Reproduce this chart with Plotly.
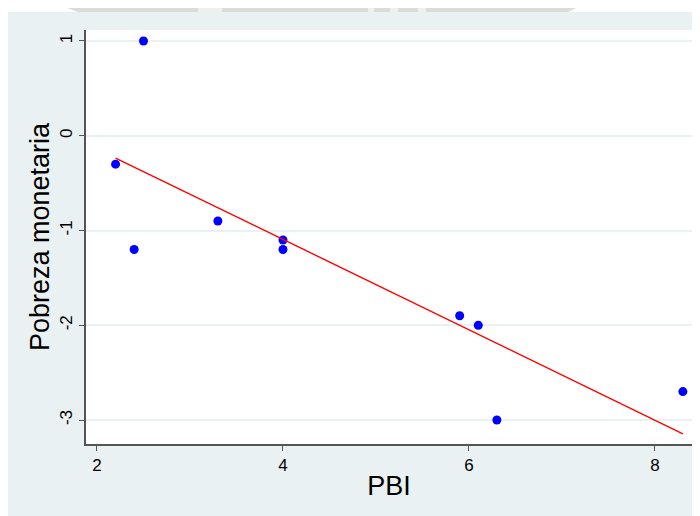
import plotly.graph_objects as go

# Data
pbi = [2.2, 2.4, 2.5, 3.3, 4.0, 4.0, 5.9, 6.1, 6.3, 8.3]
pobreza = [-0.3, -1.2, 1.0, -0.9, -1.1, -1.2, -1.9, -2.0, -3.0, -2.7]
fit_x = [2.2, 8.3]
fit_y = [-0.235, -3.145]
x_ticks = [2, 4, 6, 8]
x_labels = ["2", "4", "6", "8"]
y_ticks = [1, 0, -1, -2, -3]
y_labels = ["1", "0", "-1", "-2", "-3"]

# figure is placed at page offset (8, 8) by the default body margin
W, H = 692, 508
L, R, T, B = 78, 8, 22, 72
pw, ph = W - L - R, H - T - B

def px(xp):
    return (xp - L) / pw

def py(yp):
    return (H - B - yp) / ph

BG = "#eaf1f2"
FONT = "Liberation Sans, Arial, sans-serif"

fig = go.Figure()
fig.add_trace(go.Scatter(x=pbi, y=pobreza, mode="markers",
                         marker=dict(color="#0000ff", size=9, line=dict(width=0)),
                         showlegend=False, cliponaxis=False))
fig.add_trace(go.Scatter(x=fit_x, y=fit_y, mode="lines",
                         line=dict(color="#ff0000", width=1.4),
                         showlegend=False))

shapes = [
    dict(type="rect", xref="paper", yref="paper", x0=px(0), x1=px(W), y0=py(4), y1=py(0),
         fillcolor="white", line=dict(width=0), layer="above"),
    dict(type="path", xref="paper", yref="paper",
         path=f"M {px(59)},{py(0)} L {px(568)},{py(0)} L {px(560)},{py(4)} L {px(70)},{py(4)} Z",
         fillcolor="#d9ddd5", line=dict(width=0), layer="above"),
]
for a, b in [(190, 214), (360, 366), (382, 390), (410, 418)]:
    shapes.append(dict(type="rect", xref="paper", yref="paper", x0=px(a), x1=px(b),
                       y0=py(4), y1=py(0), fillcolor="#eef0ec", line=dict(width=0), layer="above"))

fig.update_layout(
    width=W, height=H,
    margin=dict(l=L, r=R, t=T, b=B),
    paper_bgcolor=BG, plot_bgcolor="white",
    font=dict(family=FONT, color="black"),
    shapes=shapes,
    xaxis=dict(range=[1.882, 8.398], tickvals=x_ticks, ticktext=x_labels,
               ticks="outside", ticklen=5,
               tickwidth=1, tickcolor="#555", showline=True, linecolor="#555", linewidth=1.5,
               showgrid=False, zeroline=False, tickfont=dict(size=17),
               title=dict(text="PBI", font=dict(size=27), standoff=2)),
    yaxis=dict(range=[-3.253, 1.116], tickvals=y_ticks, ticktext=y_labels,
               ticks="outside", ticklen=5,
               tickwidth=1, tickcolor="#555", showline=True, linecolor="#555", linewidth=1.5,
               showgrid=True, gridcolor=BG, gridwidth=1.5, zeroline=False,
               tickangle=-90, tickfont=dict(size=17),
               title=dict(text="Pobreza monetaria", font=dict(size=27), standoff=0)),
)

fig.write_html("out.html")
